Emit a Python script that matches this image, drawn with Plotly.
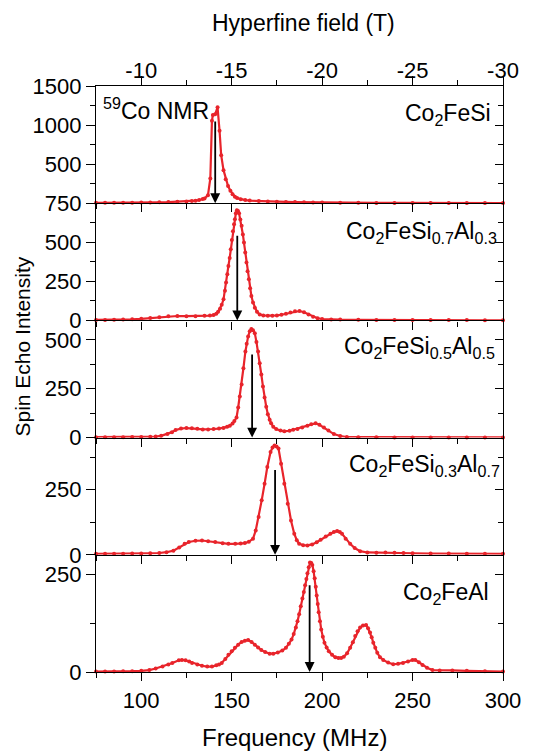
import plotly.graph_objects as go

# ---------------- data ----------------
freq_fesi = [75, 80, 85, 90, 95, 100, 105, 110, 115, 120, 125, 128, 130, 132, 134, 135, 136.9, 138.2,
             139.1, 139.6, 140.9, 142.2, 143.3, 144.2, 145.5, 146.7, 148.0, 149.3, 150.5, 151.8, 153, 155,
             157.5, 160, 165, 170, 175, 180, 185, 190, 195, 200, 210, 220, 230, 240, 250, 260, 270, 280, 290, 300]
int_fesi = [5, 5, 5, 6, 7, 8, 10, 12, 15, 18, 22, 27, 32, 40, 55, 60, 103, 316,
            1055, 1128, 1140, 1227, 927, 615, 423, 308, 220, 160, 115, 81, 65, 50,
            40, 33, 27, 22, 18, 16, 14, 12, 10, 8, 6, 5, 4, 4, 3, 3, 3, 2, 2, 2]

freq_si07 = [75, 80, 85, 90, 95, 100, 105, 110, 115, 120, 125, 130, 135, 138, 140, 141.5, 142.5, 143.6, 144.5,
             145.5, 146.3, 146.9, 147.6, 148.2, 148.9, 149.5, 150.1, 150.7, 151.3, 151.8, 152.3, 152.9, 153.5,
             154.1, 154.8, 155.5, 156.2, 156.8, 157.5, 158.2, 158.8, 159.5, 160.2, 160.9, 161.8, 162.8, 164,
             165.5, 167.5, 170, 172.5, 175, 177.5, 180, 182.5, 185, 187.5, 190, 192.5, 195, 197.5, 200, 205,
             210, 220, 230, 240, 250, 260, 270, 280, 290, 300]
int_si07 = [3, 3, 4, 5, 7, 10, 15, 20, 27, 28, 27, 27, 29, 31, 34, 42, 55, 75, 100,
            135, 190, 242, 295, 348, 400, 455, 515, 570, 615, 647, 685, 705, 700,
            685, 645, 605, 550, 498, 435, 370, 315, 263, 205, 156, 115, 81, 55,
            38, 32, 30, 30, 32, 36, 42, 50, 58, 60, 52, 38, 24, 14, 9, 6,
            5, 4, 3, 3, 2, 2, 2, 2, 1, 1]

freq_si05 = [75, 80, 85, 90, 95, 100, 105, 108, 111, 114.5, 117, 119, 122, 125, 128, 131, 134, 137, 140, 143,
             145.5, 147.5, 149, 150.5, 151.5, 152.7, 153.6, 154.5, 155.5, 156.5, 157.6, 158.3, 159.1, 160,
             160.9, 161.8, 162.8, 163.7, 164.6, 165.5, 166.4, 167.3, 168.2, 169.1, 170, 171, 171.8, 173,
             174.6, 177, 179.1, 182, 184, 186.4, 189, 191.9, 194, 196.4, 198.5, 201, 203.5, 206.5, 210,
             213.7, 220, 230, 240, 250, 260, 270, 280, 290, 300]
int_si05 = [2, 2, 2, 2, 3, 3, 4, 5, 9, 18, 28, 39, 46, 49, 48, 45, 42, 42, 44, 46,
            49, 55, 61, 72, 85, 103, 154, 210, 272, 355, 441, 480, 518, 545,
            556, 550, 534, 490, 441, 380, 323, 262, 205, 158, 120, 92, 73, 55,
            44, 36, 32, 35, 40, 44, 52, 61, 68, 73, 66, 52, 36, 18, 8,
            3, 2, 2, 1, 1, 1, 1, 1, 1, 1]

freq_si03 = [75, 80, 85, 90, 95, 100, 105, 110, 114, 117.8, 121, 124, 126.3, 130, 133.6, 137, 140.9, 145,
             148.2, 152, 155, 157.3, 159.5, 161.8, 163.3, 164.9, 166.6, 168.2, 169.7, 171.5, 172.6, 173.7,
             174.8, 175.9, 177.3, 179.1, 181, 182.8, 184.6, 186, 187.3, 189.5, 191.9, 194.5, 197, 199.2,
             202, 204.6, 206.5, 208.3, 209.8, 211, 213, 215.5, 218, 221, 225, 230, 235, 240, 245, 250,
             260, 270, 280, 290, 300]
int_si03 = [4, 4, 4, 4, 5, 5, 6, 7, 10, 16, 28, 42, 49, 54, 55, 52, 49, 44,
            42, 42, 43, 45, 50, 62, 93, 145, 209, 273, 337, 395, 412, 420,
            416, 408, 350, 273, 196, 132, 81, 56, 42, 37, 36, 40, 48, 58,
            70, 81, 88, 91, 88, 81, 62, 42, 26, 14, 9, 8, 9, 8, 7, 6,
            5, 5, 4, 4, 4]

freq_feal = [75, 80, 85, 90, 95, 100, 104.5, 108, 111.8, 115, 117.2, 120.8, 122.5, 124.5, 126.5, 128.1, 131,
             133.6, 136.5, 139.1, 141.5, 143, 144.5, 146.5, 148.2, 150, 151.8, 153.6, 155.5, 157.3, 159.1,
             161, 162.8, 164.6, 166.4, 168.5, 171, 173, 175.5, 178, 180, 181.6, 183.1, 184.3, 185.5, 186.4,
             187.3, 188.2, 189.1, 189.9, 190.6, 191.3, 191.9, 192.6, 193.3, 194, 194.6, 195.3, 195.9, 196.5,
             197, 197.6, 198.1, 198.8, 199.5, 200.4, 201.3, 202.5, 203.7, 205.5, 207.3, 209, 210.5, 212,
             213.8, 215.5, 217, 218.3, 219.6, 221, 222.6, 224.3, 225.4, 226.5, 227.4, 228.3, 229.4, 230.5,
             232, 233.8, 236.5, 239.3, 242, 244.7, 247.5, 250, 251.5, 253.5, 255.5, 258, 261, 265, 272,
             280, 290, 300]
int_feal = [1, 1, 1, 2, 2, 3, 5, 9, 14, 19, 23, 30, 31, 30, 27, 23, 19,
            16, 14, 14, 17, 19, 23, 33, 44, 53, 62, 70, 77, 80, 82,
            77, 70, 63, 56, 51, 47, 47, 50, 55, 62, 72, 83, 97, 114, 130,
            148, 168, 188, 205, 222, 238, 253, 268, 280, 279, 274, 258, 240, 218,
            196, 174, 153, 130, 109, 90, 75, 63, 53, 44, 38, 36, 36, 39,
            48, 62, 76, 92, 104, 114, 119, 120, 112, 101, 89, 75, 62, 49,
            38, 31, 24, 20, 21, 23, 27, 31, 31, 25, 18, 11, 5, 4, 4,
            3, 2, 1]

panel_freqs = [freq_fesi, freq_si07, freq_si05, freq_si03, freq_feal]
panel_ints = [int_fesi, int_si07, int_si05, int_si03, int_feal]
panel_labels = ["Co<sub>2</sub>FeSi",
                "Co<sub>2</sub>FeSi<sub>0.7</sub>Al<sub>0.3</sub>",
                "Co<sub>2</sub>FeSi<sub>0.5</sub>Al<sub>0.5</sub>",
                "Co<sub>2</sub>FeSi<sub>0.3</sub>Al<sub>0.7</sub>",
                "Co<sub>2</sub>FeAl"]
label_ypos = [0.76, 0.75, 0.77, 0.765, 0.67]
label_xpos = [0.975, 0.99, 0.985, 0.998, 0.97]
arrow_freq = [140.9, 153.1, 161.3, 174.0, 193.1]
arrow_top = [1064, 551, 433, 331, 226]
y_ranges = [[0, 1500], [0, 750], [0, 600], [0, 450], [0, 300]]
y_tickvals = [[500, 1000, 1500], [0, 250, 500, 750], [0, 250, 500], [0, 250], [0, 250]]
y_minor = [250, 125, 125, 125, 125]

x_ticks = [100, 150, 200, 250, 300]
x_ticklabels = ["100", "150", "200", "250", "300"]
hf_ticklabels = ["-10", "-15", "-20", "-25", "-30"]

RED = "#e8242b"
FONT = "Liberation Sans, Arial, sans-serif"
TICKFONT = dict(family=FONT, size=22, color="black")

fig = go.Figure()
n = 5
for i in range(n):
    xa = "x" if i == 0 else f"x{i+1}"
    ya = "y" if i == 0 else f"y{i+1}"
    fig.add_trace(go.Scatter(
        x=panel_freqs[i], y=panel_ints[i], mode="lines+markers",
        line=dict(color=RED, width=2.2), marker=dict(color=RED, size=4),
        xaxis=xa, yaxis=ya, showlegend=False, cliponaxis=False))

# page body has an 8px margin, so the figure is 8px smaller than the window
layout = dict(
    width=525, height=746,
    margin=dict(l=88, r=25, t=78, b=82),
    paper_bgcolor="white", plot_bgcolor="white",
    font=dict(family=FONT, color="black"),
)

for i in range(n):
    d0 = 1 - (i + 1) / n
    d1 = 1 - i / n
    xkey = "xaxis" if i == 0 else f"xaxis{i+1}"
    ykey = "yaxis" if i == 0 else f"yaxis{i+1}"
    ya = "y" if i == 0 else f"y{i+1}"
    xa = "x" if i == 0 else f"x{i+1}"
    layout[xkey] = dict(
        range=[75, 300], domain=[0, 1], anchor=ya,
        tickvals=x_ticks, ticktext=x_ticklabels,
        ticks="outside", ticklen=8, tickwidth=1.3, tickcolor="black",
        minor=dict(tickvals=[75, 125, 175, 225, 275], ticks="outside", ticklen=5,
                   tickwidth=1.3, tickcolor="black"),
        showline=True, linecolor="black", linewidth=1.3,
        showgrid=False, zeroline=False,
        showticklabels=(i == n - 1), tickfont=TICKFONT,
    )
    if i > 0:
        layout[xkey]["matches"] = "x"
    layout[ykey] = dict(
        range=y_ranges[i], domain=[d0, d1], anchor=xa,
        tickvals=y_tickvals[i], ticks="outside", ticklen=9, tickwidth=1.3,
        tickcolor="black",
        minor=dict(dtick=y_minor[i], tick0=0, ticks="outside", ticklen=5,
                   tickwidth=1.3, tickcolor="black"),
        showline=True, linecolor="black", linewidth=1.3,
        showgrid=False, zeroline=False, tickfont=TICKFONT,
    )
    rkey = f"yaxis{n + i + 1}"
    layout[rkey] = dict(
        range=y_ranges[i], overlaying=ya, anchor=xa, side="right",
        tickvals=y_tickvals[i] if i != 0 else [0, 500, 1000, 1500],
        ticks="inside", ticklen=8, tickwidth=1.3, tickcolor="black",
        minor=dict(dtick=y_minor[i], tick0=0, ticks="inside", ticklen=5,
                   tickwidth=1.3, tickcolor="black"),
        showticklabels=False, showline=True, linecolor="black", linewidth=1.3,
        showgrid=False, zeroline=False,
    )

layout[f"xaxis{n+1}"] = dict(
    range=[75, 300], overlaying="x", anchor="y", side="top",
    tickvals=x_ticks, ticktext=hf_ticklabels,
    ticks="outside", ticklen=9, tickwidth=1.3, tickcolor="black",
    minor=dict(tickvals=[125, 175, 225, 275], ticks="outside", ticklen=5,
               tickwidth=1.3, tickcolor="black"),
    showline=True, linecolor="black", linewidth=1.3,
    showgrid=False, zeroline=False, tickfont=TICKFONT,
    ticklabelstandoff=-11,
)

fig.update_layout(**layout)

for i in range(n):
    fig.add_trace(go.Scatter(x=[None], y=[None], xaxis=("x" if i == 0 else f"x{i+1}"),
                             yaxis=f"y{n + i + 1}", showlegend=False, hoverinfo="skip"))
fig.add_trace(go.Scatter(x=[None], y=[None], xaxis=f"x{n+1}", yaxis="y",
                         showlegend=False, hoverinfo="skip"))

annotations = []
for i in range(n):
    xa = "x" if i == 0 else f"x{i+1}"
    ya = "y" if i == 0 else f"y{i+1}"
    annotations.append(dict(
        text=panel_labels[i], xref=f"{xa} domain", yref=f"{ya} domain",
        x=label_xpos[i], y=label_ypos[i], xanchor="right", yanchor="middle",
        showarrow=False, font=dict(family=FONT, size=23, color="black")))
    annotations.append(dict(
        x=arrow_freq[i], y=0, ax=arrow_freq[i], ay=arrow_top[i],
        xref=xa, yref=ya, axref=xa, ayref=ya, text="",
        showarrow=True, arrowhead=2, arrowsize=1.1, arrowwidth=1.8,
        arrowcolor="black"))

annotations.append(dict(
    text="<sup>59</sup>Co NMR", xref="x domain", yref="y domain", x=0.012, y=0.80,
    xanchor="left", yanchor="middle", showarrow=False,
    font=dict(family=FONT, size=23, color="black")))
annotations.append(dict(
    text="Spin Echo Intensity", xref="paper", yref="paper", x=-0.18, y=0.555,
    xanchor="center", yanchor="middle", textangle=-90, showarrow=False,
    font=dict(family=FONT, size=21, color="black")))
annotations.append(dict(
    text="Frequency (MHz)", xref="paper", yref="paper", x=0.488, y=-0.111,
    xanchor="center", yanchor="middle", showarrow=False,
    font=dict(family=FONT, size=24, color="black")))
annotations.append(dict(
    text="Hyperfine field (T)", xref="paper", yref="paper", x=0.509, y=1.133,
    xanchor="center", yanchor="top", showarrow=False,
    font=dict(family=FONT, size=23, color="black")))

fig.update_layout(annotations=annotations)

fig.write_html("out.html")
